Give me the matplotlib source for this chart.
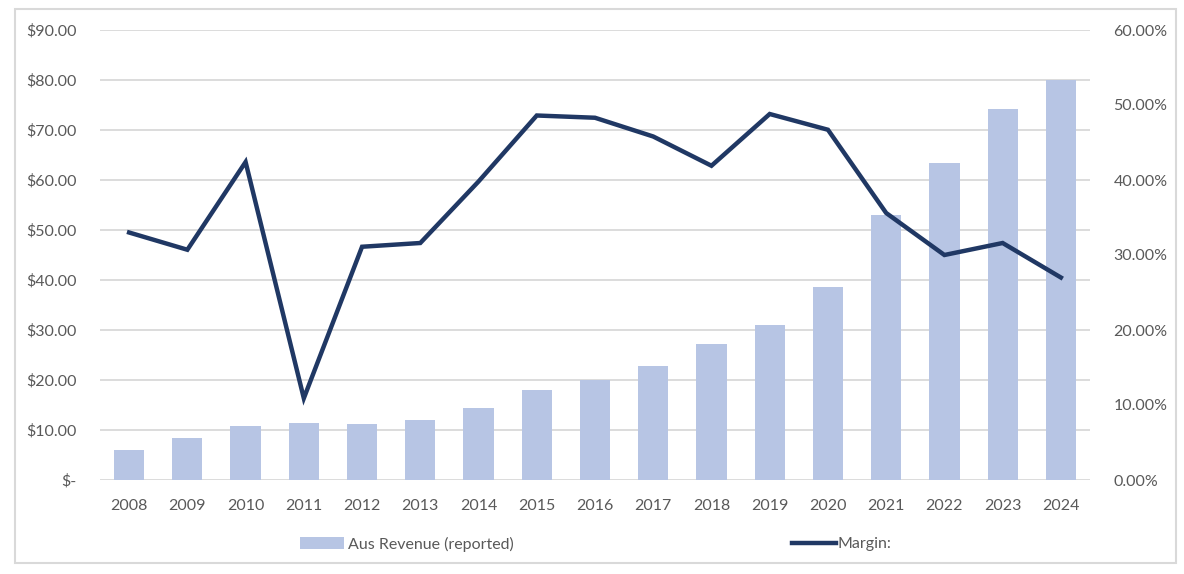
import numpy as np
import matplotlib.pyplot as plt
from matplotlib.patches import Rectangle
from matplotlib.ticker import FuncFormatter

years = ["2008", "2009", "2010", "2011", "2012", "2013", "2014", "2015", "2016",
         "2017", "2018", "2019", "2020", "2021", "2022", "2023", "2024"]
revenue = [6.1, 8.4, 10.9, 11.4, 11.2, 12.0, 14.5, 18.1, 20.0,
           22.9, 27.3, 31.1, 38.7, 53.0, 63.4, 74.3, 80.0]
margin = [33.0, 30.7, 42.4, 10.9, 31.1, 31.6, 39.8, 48.6, 48.3,
          45.8, 41.9, 48.8, 46.7, 35.6, 30.0, 31.6, 27.0]

bar_color = "#B7C5E4"
line_color = "#203864"
grid_color = "#D9D9D9"
text_color = "#595959"
plt.rcParams['font.family'] = ['Lato', 'DejaVu Sans']

fig = plt.figure(figsize=(11.84, 5.74), dpi=100)
ax = fig.add_axes([100/1184, 1 - 480/574, 990/1184, 450/574])
ax2 = ax.twinx()

x = np.arange(len(years))
bars = ax.bar(x, revenue, width=0.52, color=bar_color, zorder=2)
line, = ax2.plot(x, margin, color=line_color, lw=3.2, solid_joinstyle="miter", zorder=3)

ax.set_xlim(-0.5, len(years) - 0.5)
ax.set_ylim(0, 90)
ax.set_yticks(np.arange(0, 91, 10))
ax.yaxis.set_major_formatter(FuncFormatter(lambda v, p: "$-" if v == 0 else f"${v:.2f}"))
ax2.set_ylim(0, 60)
ax2.set_yticks(np.arange(0, 61, 10))
ax2.yaxis.set_major_formatter(FuncFormatter(lambda v, p: f"{v:.2f}%"))
ax.set_xticks(x)
ax.set_xticklabels(years)

ax.grid(axis="y", color=grid_color, lw=1.3, zorder=0)
ax.set_axisbelow(True)
for a in (ax, ax2):
    for s in a.spines.values():
        s.set_visible(False)
ax.tick_params(axis="both", length=0, labelsize=11.5, colors=text_color)
ax.tick_params(axis="y", pad=17)
ax.tick_params(axis="x", pad=14)
ax2.tick_params(axis="y", length=0, labelsize=11.5, colors=text_color, pad=17)

# move the line above the bars
ax2.set_zorder(ax.get_zorder() + 1)
ax2.patch.set_visible(False)

# chart border
fig.patches.append(Rectangle((15/1184, 1 - 563/574), 1161/1184, 554/574,
                             transform=fig.transFigure, fill=False,
                             edgecolor=grid_color, lw=1.5))

leg_kw = dict(frameon=False, fontsize=11.5, labelcolor=text_color,
              handlelength=2.7, handletextpad=0.3, loc="center left")
fig.legend([bars], ["Aus Revenue (reported)"], bbox_to_anchor=(286/1184, 1 - 544/574),
           handleheight=0.8, **leg_kw)
fig.legend([line], ["Margin:"], bbox_to_anchor=(778/1184, 1 - 544/574),
           **dict(leg_kw, handletextpad=0.1))

fig.savefig("out.png", dpi=100)
